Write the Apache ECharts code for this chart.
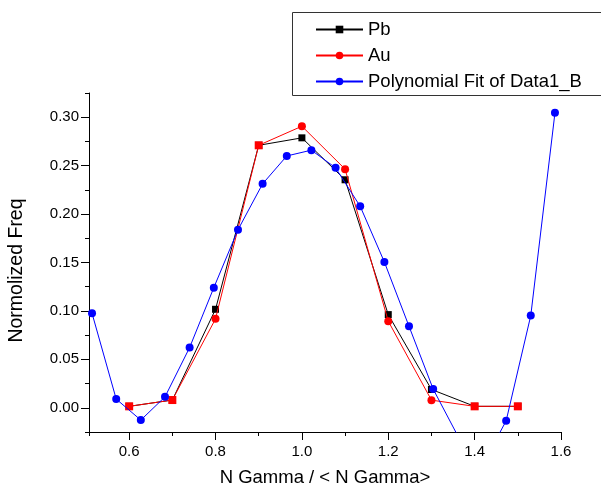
<!DOCTYPE html>
<html>
<head>
<meta charset="utf-8">
<script src="https://cdn.jsdelivr.net/npm/echarts@6/dist/echarts.min.js"></script>
<style>
html,body{margin:0;padding:0;background:#fff;}
#chart{width:601px;height:487px;}
</style>
</head>
<body>
<div id="chart"></div>
<script>
// ---- data ----
var pbX = [0.6, 0.7, 0.8, 0.9, 1.0, 1.1, 1.2, 1.3, 1.4, 1.5];
var pbY = [0.0015, 0.008, 0.1017, 0.271, 0.2787, 0.2354, 0.0962, 0.0189, 0.0015, 0.0015];
var auX = [0.6, 0.7, 0.8, 0.9, 1.0, 1.1, 1.2, 1.3, 1.4, 1.5];
var auY = [0.0015, 0.008, 0.0918, 0.271, 0.2907, 0.2464, 0.0894, 0.0079, 0.0015, 0.0015];
var fitX = [0.514, 0.570, 0.627, 0.683, 0.740, 0.796, 0.852, 0.909, 0.965, 1.022,
            1.078, 1.135, 1.191, 1.248, 1.304, 1.361, 1.417, 1.473, 1.530, 1.586];
var fitY = [0.0976, 0.009, -0.0127, 0.0113, 0.0622, 0.124, 0.1838, 0.2312, 0.260, 0.266,
            0.2477, 0.208, 0.1505, 0.0842, 0.0193, -0.029, -0.060, -0.0134, 0.0952, 0.3045];
var seriesNames = ['Pb', 'Au', 'Polynomial Fit of Data1_B'];
var xMajorTicks = [0.6, 0.8, 1.0, 1.2, 1.4, 1.6];
var xMinorTicks = [0.507, 0.7, 0.9, 1.1, 1.3, 1.5];
var yMajorTicks = [0, 0.05, 0.10, 0.15, 0.20, 0.25, 0.30];
var yMinorTicks = [-0.025, 0.025, 0.075, 0.125, 0.175, 0.225, 0.275, 0.325];
var xTitle = 'N Gamma / < N Gamma>';
var yTitle = 'Normolized Freq';

function pairs(xs, ys) { return xs.map(function (x, i) { return [x, ys[i]]; }); }

var FONT = '"Liberation Sans", Arial, sans-serif';
var chart = echarts.init(document.getElementById('chart'), null, {renderer: 'canvas'});

var xMin = 0.507, xMax = 1.6, yMin = -0.025, yMax = 0.325;

var auData = auX.map(function (x, i) {
  var item = {value: [x, auY[i]]};
  if (Math.abs(auY[i] - pbY[i]) < 0.0005) item.symbol = 'rect';
  return item;
});

var option = {
  animation: false,
  textStyle: {fontFamily: FONT, color: '#000'},
  grid: {left: 89, right: 40, top: 93, bottom: 55, containLabel: false, outerBoundsMode: 'none'},
  legend: {
    orient: 'vertical',
    left: 315,
    top: 20,
    padding: 0,
    itemWidth: 47,
    itemHeight: 9.5,
    itemGap: 7,
    textStyle: {fontFamily: FONT, fontSize: 18.5, color: '#000'},
    data: seriesNames
  },
  graphic: [{
    type: 'rect',
    shape: {x: 292.5, y: 12.5, width: 330, height: 83},
    style: {fill: 'none', stroke: '#333', lineWidth: 1},
    z: 100, silent: true
  }],
  xAxis: [{
    type: 'value', min: xMin, max: xMax, position: 'bottom',
    name: xTitle, nameLocation: 'middle', nameGap: 36,
    nameTextStyle: {fontFamily: FONT, fontSize: 18.5, color: '#000'},
    axisLine: {show: true, onZero: false, lineStyle: {color: '#000', width: 1}},
    axisTick: {show: true, length: 8, inside: false, customValues: xMajorTicks, lineStyle: {color: '#000'}},
    axisLabel: {show: true, customValues: xMajorTicks, margin: 12, fontSize: 15, color: '#000', fontFamily: FONT,
      formatter: function (v) { return v.toFixed(1); }},
    splitLine: {show: false}
  }, {
    type: 'value', min: xMin, max: xMax, position: 'bottom',
    axisLine: {show: false, onZero: false},
    axisTick: {show: true, length: 4, inside: false, customValues: xMinorTicks, lineStyle: {color: '#000'}},
    axisLabel: {show: false},
    splitLine: {show: false}
  }],
  yAxis: [{
    type: 'value', min: yMin, max: yMax, position: 'left',
    name: yTitle, nameLocation: 'middle', nameGap: 62,
    nameTextStyle: {fontFamily: FONT, fontSize: 19.5, color: '#000', padding: [0, 16, 0, 0]},
    axisLine: {show: true, onZero: false, lineStyle: {color: '#000', width: 1}},
    axisTick: {show: true, length: 8, inside: false, customValues: yMajorTicks, lineStyle: {color: '#000'}},
    axisLabel: {show: true, customValues: yMajorTicks, margin: 10, fontSize: 15, color: '#000', fontFamily: FONT,
      formatter: function (v) { return v.toFixed(2); }},
    splitLine: {show: false}
  }, {
    type: 'value', min: yMin, max: yMax, position: 'left',
    axisLine: {show: false, onZero: false},
    axisTick: {show: true, length: 4, inside: false, customValues: yMinorTicks, lineStyle: {color: '#000'}},
    axisLabel: {show: false},
    splitLine: {show: false}
  }],
  series: [{
    name: seriesNames[0], type: 'line', xAxisIndex: 0, yAxisIndex: 0,
    data: pairs(pbX, pbY), symbol: 'rect', symbolSize: 7, showAllSymbol: true,
    lineStyle: {color: '#000', width: 1}, itemStyle: {color: '#000'}, z: 2, clip: true
  }, {
    name: seriesNames[1], type: 'line', xAxisIndex: 0, yAxisIndex: 0,
    data: auData, symbol: 'circle', symbolSize: 8, showAllSymbol: true,
    lineStyle: {color: '#ff0000', width: 1}, itemStyle: {color: '#ff0000'}, z: 3, clip: true
  }, {
    name: seriesNames[2], type: 'line', xAxisIndex: 0, yAxisIndex: 0,
    data: pairs(fitX, fitY), symbol: 'circle', symbolSize: 8, showAllSymbol: true,
    lineStyle: {color: '#0000ff', width: 1}, itemStyle: {color: '#0000ff'}, z: 4, clip: true
  }]
};
chart.setOption(option);
</script>
</body>
</html>
